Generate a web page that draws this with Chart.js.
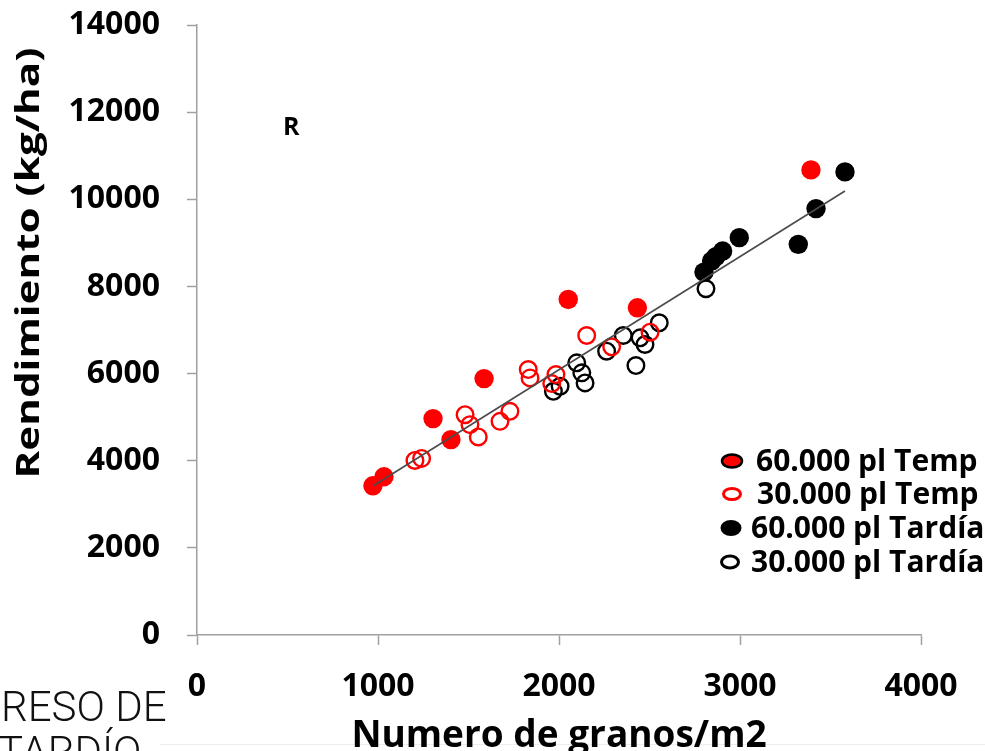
<!DOCTYPE html>
<html lang="es">
  <head>
    <meta charset="UTF-8" />
    <title>Rendimiento vs granos</title>
    <script src="https://cdn.jsdelivr.net/npm/chart.js"></script>
    <style>
      html, body { margin: 0; padding: 0; background: #fff; }
      #wrap { width: 985px; height: 751px; }
    </style>
  </head>
  <body>
    <div id="wrap">
      <canvas id="granosChart" width="985" height="751"></canvas>
    </div>

    <script>
// ----- data -----
var redFilledX = [972, 1033, 1304, 1403, 1586, 2051, 2433, 3392];
var redFilledY = [3425, 3632, 4966, 4483, 5885, 7701, 7510, 10674];

var redOpenX = [1204, 1241, 1481, 1508, 1554, 1674, 1729, 1830, 1840, 1960, 1983, 2153, 2291, 2503];
var redOpenY = [4007, 4053, 5057, 4828, 4545, 4903, 5133, 6092, 5901, 5770, 5977, 6874, 6614, 6949];

var blackFilledX = [2801, 2843, 2867, 2904, 2996, 3322, 3420, 3580];
var blackFilledY = [8329, 8582, 8683, 8812, 9119, 8966, 9786, 10628];

var blackOpenX = [1969, 2006, 2098, 2126, 2144, 2263, 2355, 2425, 2448, 2475, 2554, 2812];
var blackOpenY = [5593, 5708, 6246, 6016, 5786, 6513, 6874, 6184, 6820, 6667, 7165, 7947];

// trend line ends
var trendX = [974, 3580];
var trendY = [3425, 10190];

var seriesNames = ["60.000 pl Temp", "30.000 pl Temp", "60.000 pl Tardía", "30.000 pl Tardía"];
var xTicks = [0, 1000, 2000, 3000, 4000];
var yTicks = [0, 2000, 4000, 6000, 8000, 10000, 12000, 14000];

function pts(xs, ys) {
  return xs.map(function (x, i) { return { x: x, y: ys[i] }; });
}

var FONT = "'Open Sans', 'Liberation Sans', sans-serif";

// legend, y title and loose texts drawn on top of the chart
var extrasPlugin = {
  id: 'extras',
  beforeDraw: function (chart) {
    var ctx = chart.ctx;
    ctx.save();
    ctx.strokeStyle = '#ececec';
    ctx.lineWidth = 1;
    ctx.beginPath();
    ctx.moveTo(160, 744.5); ctx.lineTo(985, 744.5);
    ctx.stroke();
    ctx.restore();
  },
  afterDraw: function (chart) {
    var ctx = chart.ctx;
    ctx.save();

    // y axis title, stretched to the length of the original
    ctx.translate(30, 263);
    ctx.rotate(-Math.PI / 2);
    ctx.font = 'bold 32px ' + FONT;
    ctx.fillStyle = '#000';
    ctx.textAlign = 'center';
    ctx.textBaseline = 'middle';
    var t = 'Rendimiento (kg/ha)';
    var w = ctx.measureText(t).width;
    ctx.scale(431 / w, 1);
    ctx.fillText(t, 0, 0);
    ctx.restore();

    ctx.save();
    ctx.fillStyle = '#000';
    ctx.font = 'bold 25px ' + FONT;
    ctx.textBaseline = 'alphabetic';
    ctx.fillText('R', 283, 135);

    // legend
    var rows = [
      { y: 461, mx: 732, rx: 10, ry: 6.5, fill: '#ff0000', stroke: '#000', lw: 2.5, tx: 756 },
      { y: 494, mx: 732, rx: 8.5, ry: 5.5, fill: null, stroke: '#ff0000', lw: 3, tx: 757 },
      { y: 528, mx: 731, rx: 10.5, ry: 8, fill: '#000', stroke: null, lw: 0, tx: 751 },
      { y: 562, mx: 730, rx: 8.5, ry: 6, fill: null, stroke: '#000', lw: 3, tx: 751 }
    ];
    ctx.font = 'bold 30px ' + FONT;
    ctx.textBaseline = 'middle';
    rows.forEach(function (r, i) {
      ctx.beginPath();
      ctx.ellipse(r.mx, r.y, r.rx, r.ry, 0, 0, Math.PI * 2);
      if (r.fill) { ctx.fillStyle = r.fill; ctx.fill(); }
      if (r.stroke) { ctx.lineWidth = r.lw; ctx.strokeStyle = r.stroke; ctx.stroke(); }
      ctx.fillStyle = '#000';
      ctx.fillText(seriesNames[i], r.tx, r.y + 1);
    });

    // cut off slide text bottom left
    ctx.font = '300 42px Roboto, ' + FONT;
    ctx.textBaseline = 'alphabetic';
    ctx.fillStyle = '#111';
    ctx.fillText('RESO DE', 1, 721);
    ctx.fillText('TARDÍO', -2, 766);
    ctx.restore();
  }
};

var granosChart = new Chart(document.getElementById('granosChart'), {
  type: 'scatter',
  data: {
    datasets: [
      {
        type: 'line',
        label: 'tendencia',
        data: pts(trendX, trendY),
        borderColor: '#4a4a4a',
        borderWidth: 1.6,
        pointRadius: 0,
        fill: false
      },
      {
        label: seriesNames[0],
        data: pts(redFilledX, redFilledY),
        backgroundColor: '#ff0000',
        borderColor: '#ff0000',
        borderWidth: 0,
        pointRadius: 9.7
      },
      {
        label: seriesNames[1],
        data: pts(redOpenX, redOpenY),
        backgroundColor: 'rgba(255,255,255,0)',
        borderColor: '#ff0000',
        borderWidth: 2.4,
        pointRadius: 8.3
      },
      {
        label: seriesNames[2],
        data: pts(blackFilledX, blackFilledY),
        backgroundColor: '#000',
        borderColor: '#000',
        borderWidth: 0,
        pointRadius: 9.7
      },
      {
        label: seriesNames[3],
        data: pts(blackOpenX, blackOpenY),
        backgroundColor: 'rgba(255,255,255,0)',
        borderColor: '#000',
        borderWidth: 2.4,
        pointRadius: 8.3
      }
    ]
  },
  options: {
    responsive: false,
    animation: false,
    events: [],
    layout: {
      autoPadding: false,
      padding: { left: 0, right: 64, top: 25, bottom: 0 }
    },
    plugins: {
      legend: { display: false },
      tooltip: { enabled: false }
    },
    scales: {
      x: {
        type: 'linear',
        min: 0,
        max: 4000,
        afterFit: function (s) {
          s.height = 116;
          s.paddingLeft = 0;
          s.paddingRight = 0;
        },
        afterBuildTicks: function (s) { s.ticks = xTicks.map(function (v) { return { value: v }; }); },
        border: { display: true, color: '#a0a0a0', width: 1.5 },
        grid: { drawOnChartArea: false, drawTicks: true, tickLength: 10, tickColor: '#a0a0a0', tickWidth: 1.5 },
        ticks: {
          color: '#000',
          padding: 23,
          maxRotation: 0,
          callback: function (v) { return String(v); },
          font: { family: FONT, size: 32, weight: 'bold' }
        },
        title: {
          display: true,
          text: 'Numero de granos/m2',
          color: '#000',
          padding: { top: 0, bottom: -4 },
          font: { family: FONT, size: 37, weight: 'bold', lineHeight: 1.0 }
        }
      },
      y: {
        type: 'linear',
        min: 0,
        max: 14000,
        afterFit: function (s) {
          s.width = 197;
          s.paddingTop = 0;
          s.paddingBottom = 0;
        },
        afterBuildTicks: function (s) { s.ticks = yTicks.map(function (v) { return { value: v }; }); },
        border: { display: true, color: '#a0a0a0', width: 1.5 },
        grid: { drawOnChartArea: false, drawTicks: true, tickLength: 10, tickColor: '#a0a0a0', tickWidth: 1.5 },
        ticks: {
          color: '#000',
          padding: 27,
          callback: function (v) { return String(v); },
          font: { family: FONT, size: 32, weight: 'bold' }
        }
      }
    }
  },
  plugins: [extrasPlugin]
});
    </script>
  </body>
</html>
